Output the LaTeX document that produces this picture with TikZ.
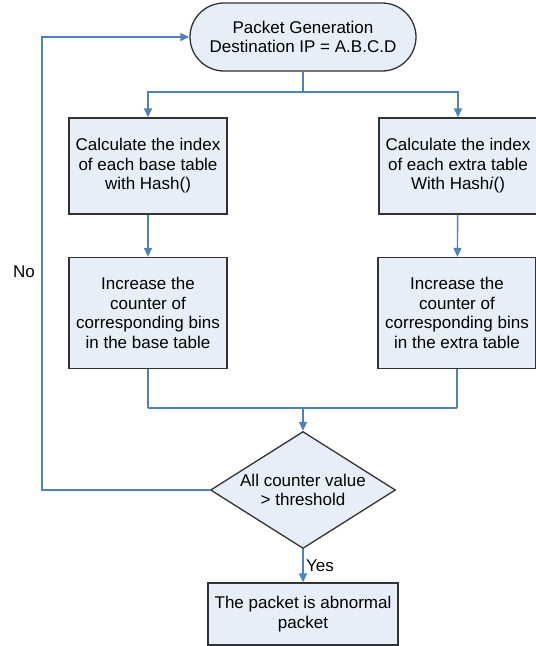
\documentclass[tikz,border=0pt]{standalone}
\usepackage{fontspec}
\setmainfont{Liberation Sans}
\usetikzlibrary{arrows.meta,shapes.geometric}
\definecolor{flowblue}{RGB}{79,129,189}
\definecolor{boxfill}{RGB}{232,238,247}
\definecolor{boxline}{RGB}{50,50,50}
\tikzset{
  procbox/.style={shape=rectangle,draw=boxline,fill=boxfill,line width=1.3pt,
    minimum width=158pt,minimum height=96pt,align=center,inner sep=2pt},
  flow/.style={draw=flowblue,line width=1.4pt},
  arr/.style={flow,-{Triangle[length=9pt,width=8pt]}}
}
\begin{document}
\begin{tikzpicture}[x=1pt,y=-1pt,font=\fontsize{17}{19.5}\selectfont]
\useasboundingbox (0,0) rectangle (536,646);
\node(gen) at (303,37)[shape=rectangle,rounded corners=34pt,draw=boxline,fill=boxfill,line width=1.3pt,
  minimum width=226pt,minimum height=68pt,align=center]   {Packet Generation\\Destination IP = A.B.C.D};
\node(calcL) at (148,166)[procbox]   {Calculate the index\\of each base table\\with Hash()};
\node(calcR) at (458,166)[procbox]   {Calculate the index\\of each extra table\\With Hash\textit{i}()};
\node(incL) at (148,313)[procbox,minimum height=111pt]   {Increase the\\counter of\\corresponding bins\\in the base table};
\node(incR) at (457,313)[procbox,minimum height=111pt]   {Increase the\\counter of\\corresponding bins\\in the extra table};
\node(check) at (303,490)[shape=diamond,draw=boxline,fill=boxfill,line width=1.3pt,inner sep=0pt,
  minimum width=185pt,minimum height=117pt,
  label={[align=center]center:All counter value\\> threshold}]   {};
\node(result) at (303,614)[procbox,minimum width=190pt,minimum height=62pt]   {The packet is abnormal\\packet};
\node(no) at (24,272)   {No};
\coordinate(split) at (303,92);
\coordinate(join) at (303,408);
\coordinate(back) at (42,490);

\path [flow]
  (gen)      edge      (split)
  (incL)     edge[-]   (incL|-join)
  (incR)     edge[-]   (incR|-join);
\draw[flow] (incL|-join) -- (incR|-join);
\draw[arr] (split) -| (calcL);
\draw[arr] (split) -| (calcR);
\draw[arr] (calcL) -- (incL);
\draw[arr] (calcR) -- (incR);
\draw[arr] (join) -- (check);
\draw[arr] (check) -- node[right,xshift=-1pt]  {Yes}     (result);
\draw[arr] (check) -- (back) |- (gen);

\end{tikzpicture}
\end{document}
